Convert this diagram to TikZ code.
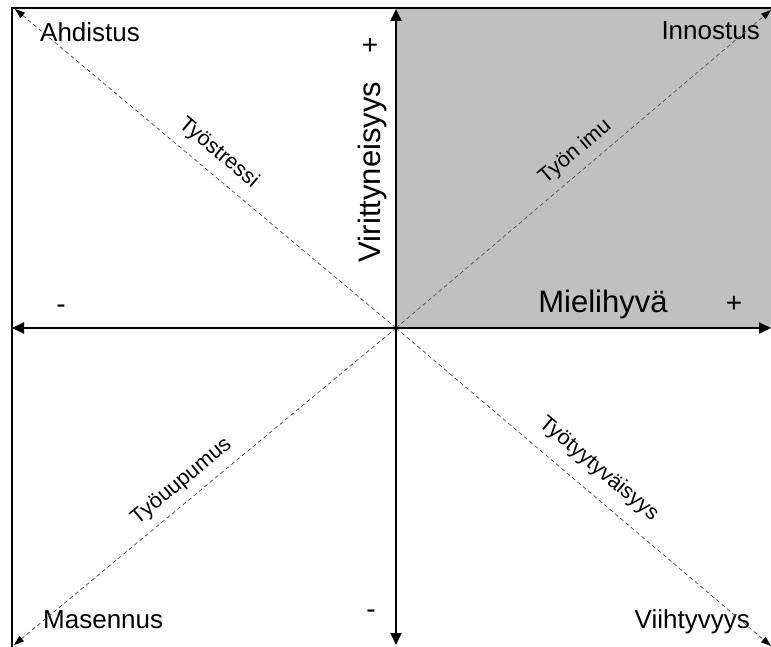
\documentclass[tikz,border=0pt]{standalone}
\usepackage{fontspec}
\setmainfont{Liberation Sans}
\usepackage{tikz}
\usetikzlibrary{arrows.meta,calc}
\definecolor{quad_gray}{RGB}{192, 192, 192}
\definecolor{dash_gray}{RGB}{80, 80, 80}
\tikzstyle{frame}=[line width=2pt,draw=black]
\tikzstyle{axisarrow}=[-{Triangle[length=12pt,width=11pt]},line width=2pt,draw=black]
\tikzstyle{diagline}=[-{Triangle[length=10pt,width=7pt,black]},line width=0.7pt,
  draw=dash_gray,dash pattern=on 4pt off 3pt]
\tikzstyle{mood}=[font=\fontsize{26}{30}\selectfont,inner sep=0pt]
\tikzstyle{axislabel}=[font=\fontsize{31}{36}\selectfont,inner sep=0pt]
\tikzstyle{sign}=[font=\fontsize{28}{32}\selectfont,inner sep=0pt]
\tikzstyle{diaglabel}=[font=\fontsize{21.5}{25}\selectfont,inner xsep=0pt,sloped,above]
\tikzstyle{none}=[]

\begin{document}
\begin{tikzpicture}[x=1pt,y=1pt]
		\useasboundingbox (0, 0) rectangle (771, 646);
		\clip (0, 0) rectangle (771, 646);
		\coordinate (0) at (396, 318);
		\coordinate (1) at (15, 637);
		\coordinate (2) at (771, 636);
		\coordinate (3) at (14, 1);
		\coordinate (4) at (771, 0);
		\coordinate (5) at (12, 318);
		\coordinate (6) at (771, 318);
		\coordinate (7) at (396, 637);
		\coordinate (8) at (396, 1);
		\fill [quad_gray] (0) rectangle (780, 638);
		\draw [style=frame] (12, -10) rectangle (780, 638);
		\node [style=mood, anchor=base west] (9) at (40, 604) {Ahdistus};
		\node [style=mood, anchor=base east] (10) at (760, 606) {Innostus};
		\node [style=mood, anchor=base west] (11) at (43, 18) {Masennus};
		\node [style=mood, anchor=base east] (12) at (750, 18) {Viihtyvyys};
		\node [style=axislabel, rotate=90, anchor=base] (13) at (380, 474) {Virittyneisyys};
		\node [style=axislabel, anchor=base] (14) at (603, 333) {Mielihyvä};
		\node [style=sign] (15) at (370, 600) {+};
		\node [style=sign] (16) at (734, 342) {+};
		\node [style=sign] (17) at (61, 337) {-};
		\node [style=sign] (18) at (371, 32) {-};
		\draw [style=diagline] (0) to node [style=diaglabel, pos=0.5, inner ysep=10pt] {Työstressi} (1);
		\draw [style=diagline] (0) to node [style=diaglabel, pos=0.51, inner ysep=8pt] {Työn imu} (2);
		\draw [style=diagline] (0) to node [style=diaglabel, pos=0.53, inner ysep=8.5pt] {Työuupumus} (3);
		\draw [style=diagline] (0) to node [style=diaglabel, pos=0.5, inner ysep=13pt] {Työtyytyväisyys} (4);
		\draw [style=axisarrow] (0) to (5);
		\draw [style=axisarrow] (0) to (6);
		\draw [style=axisarrow] (0) to (7);
		\draw [style=axisarrow] (0) to (8);
\end{tikzpicture}
\end{document}
